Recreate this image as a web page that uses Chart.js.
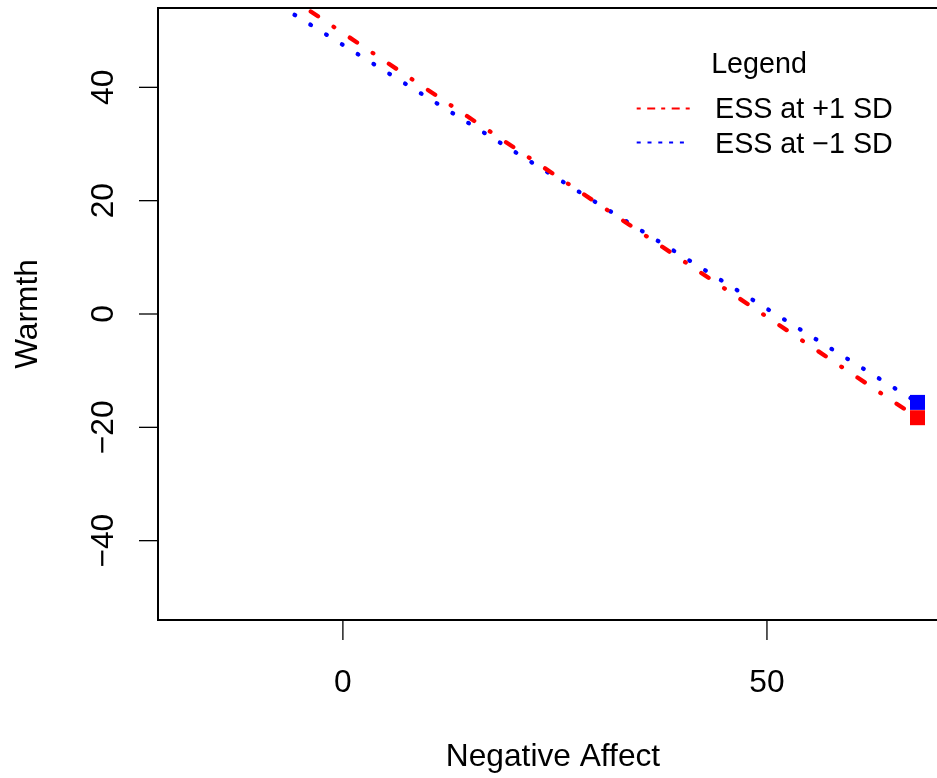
<!DOCTYPE html>
<html lang="en">
<head>
  <meta charset="UTF-8">
  <title>Warmth vs Negative Affect</title>
  <style>
    html, body { margin: 0; padding: 0; background: #fff; }
    canvas { display: block; }
  </style>
</head>
<body>
  <canvas id="plot" width="937" height="778"></canvas>

  <script src="https://cdn.jsdelivr.net/npm/chart.js"></script>
  <script>
    // values
    const xHigh = [-5.7, 67.75];      // ESS at +1 SD
    const yHigh = [55.3, -18.3];
    const xLow = [-5.7, 67.75];       // ESS at -1 SD
    const yLow = [52.8, -15.6];
    const xTicks = [0, 50];
    const yTicks = [-40, -20, 0, 20, 40];
    const seriesNames = ['ESS at +1 SD', 'ESS at \u22121 SD'];

    const FONT = '"Liberation Sans", Arial, sans-serif';

    const toPts = (xs, ys) => xs.map((x, i) => ({ x: x, y: ys[i] }));

    // R-like axes, box and legend
    const rDecor = {
      id: 'rDecor',
      afterDraw(chart) {
        const ctx = chart.ctx;
        const a = chart.chartArea;
        const xs = chart.scales.x, ys = chart.scales.y;
        ctx.save();
        ctx.strokeStyle = '#000';
        ctx.fillStyle = '#000';
        ctx.lineWidth = 2;
        ctx.strokeRect(a.left, a.top, a.right - a.left + 20, a.bottom - a.top);

        // ticks
        ctx.lineWidth = 1.3;
        ctx.font = '31.7px ' + FONT;
        ctx.textBaseline = 'alphabetic';
        xTicks.forEach(v => {
          const px = xs.getPixelForValue(v);
          ctx.beginPath();
          ctx.moveTo(px, a.bottom);
          ctx.lineTo(px, a.bottom + 20);
          ctx.stroke();
          ctx.textAlign = 'center';
          ctx.fillText(String(v), px, 692);
        });
        yTicks.forEach(v => {
          const py = ys.getPixelForValue(v);
          ctx.beginPath();
          ctx.moveTo(a.left, py);
          ctx.lineTo(a.left - 19, py);
          ctx.stroke();
          ctx.save();
          ctx.translate(113, py);
          ctx.rotate(-Math.PI / 2);
          ctx.textAlign = 'center';
          ctx.fillText(v < 0 ? '\u2212' + Math.abs(v) : String(v), 0, 0);
          ctx.restore();
        });

        // axis titles
        ctx.textAlign = 'center';
        ctx.fillText('Negative Affect', 553, 766);
        ctx.save();
        ctx.translate(37, (a.top + a.bottom) / 2);
        ctx.rotate(-Math.PI / 2);
        ctx.fillText('Warmth', 0, 0);
        ctx.restore();

        // legend
        ctx.font = '28.7px ' + FONT;
        ctx.fillText('Legend', 759, 73);
        ctx.textAlign = 'left';
        const rows = [
          { y: 108.5, base: 118, end: 690, color: '#ff0000', dash: [4, 6.5, 8, 6], text: seriesNames[0] },
          { y: 142.5, base: 153, end: 684, color: '#0000ff', dash: [4, 6.8], text: seriesNames[1] }
        ];
        rows.forEach(r => {
          ctx.strokeStyle = r.color;
          ctx.lineWidth = 1.8;
          ctx.lineCap = 'butt';
          ctx.setLineDash(r.dash);
          ctx.beginPath();
          ctx.moveTo(636.7, r.y);
          ctx.lineTo(r.end, r.y);
          ctx.stroke();
          ctx.setLineDash([]);
          ctx.fillText(r.text, 715, r.base);
        });
        ctx.restore();
      }
    };

    const ctx = document.getElementById('plot').getContext('2d');
    new Chart(ctx, {
      type: 'scatter',
      data: {
        datasets: [
          {
            label: seriesNames[0],
            data: toPts(xHigh, yHigh),
            showLine: true,
            borderColor: '#ff0000',
            borderWidth: 4.3,
            borderDash: [0.7, 18.8, 8.7, 18.8],
            borderCapStyle: 'round',
            pointRadius: 0,
            clip: 0
          },
          {
            label: seriesNames[0] + ' end',
            data: toPts([xHigh[1]], [yHigh[1]]),
            pointStyle: 'rect',
            pointRadius: 10.6,
            pointBorderWidth: 0,
            backgroundColor: '#ff0000',
            borderColor: '#ff0000'
          },
          {
            label: seriesNames[1],
            data: toPts(xLow, yLow),
            showLine: true,
            borderColor: '#0000ff',
            borderWidth: 4.3,
            borderDash: [0.7, 17.9],
            borderCapStyle: 'round',
            pointRadius: 0,
            clip: 0
          },
          {
            label: seriesNames[1] + ' end',
            data: toPts([xLow[1]], [yLow[1]]),
            pointStyle: 'rect',
            pointRadius: 10.6,
            pointBorderWidth: 0,
            backgroundColor: '#0000ff',
            borderColor: '#0000ff'
          }
        ]
      },
      options: {
        responsive: false,
        animation: false,
        devicePixelRatio: 1,
        layout: { autoPadding: false, padding: { left: 158, top: 8, right: 0, bottom: 158 } },
        plugins: {
          legend: { display: false },
          tooltip: { enabled: false }
        },
        scales: {
          x: { type: 'linear', display: false, min: -21.8, max: 70.05 },
          y: { type: 'linear', display: false, min: -54, max: 54 }
        }
      },
      plugins: [rDecor]
    });
  </script>
</body>
</html>
